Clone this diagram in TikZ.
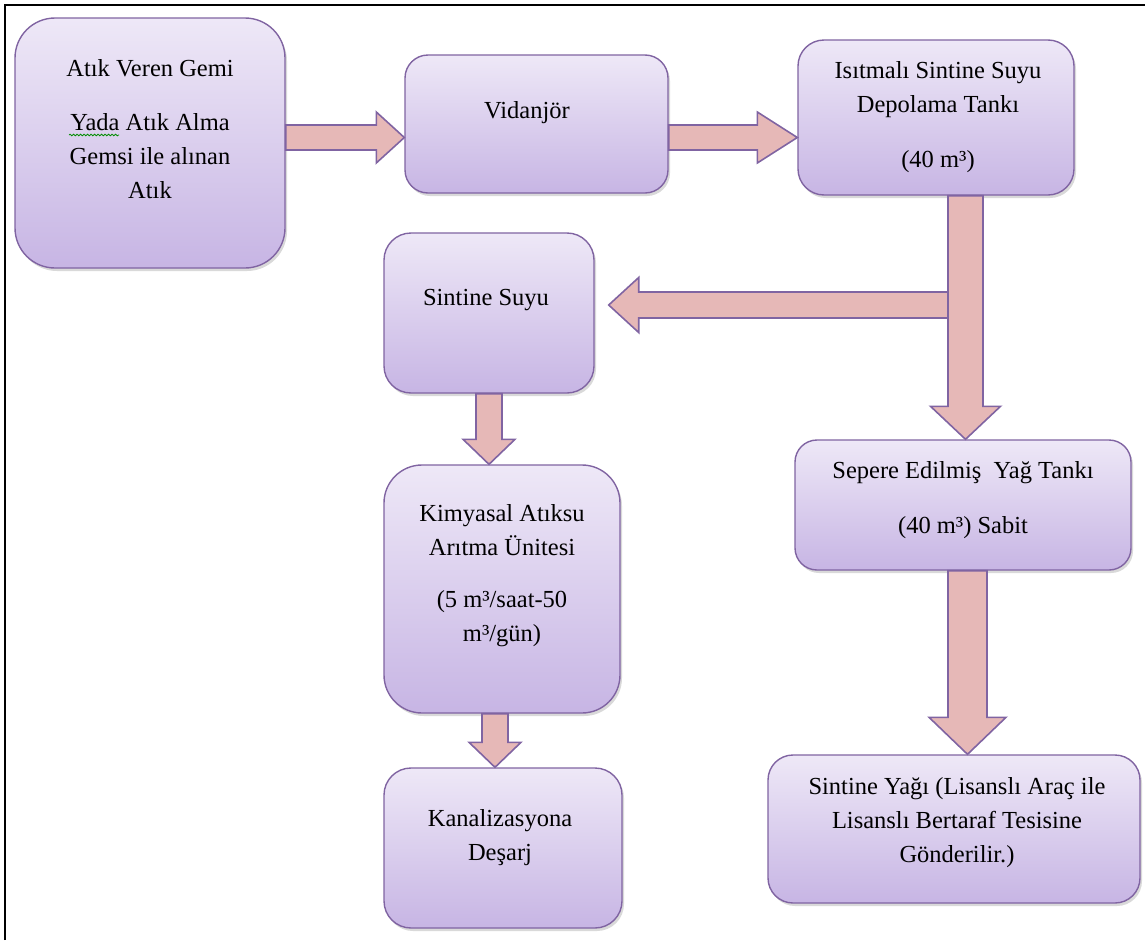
\documentclass[tikz,border=0pt]{standalone}
\usepackage{fontspec}
\setmainfont{Liberation Serif}
\usetikzlibrary{calc,shadows,decorations.pathmorphing}

\definecolor{boxtop}{RGB}{238,232,247}
\definecolor{boxbot}{RGB}{199,181,228}
\definecolor{boxline}{RGB}{128,100,162}
\definecolor{arrowfill}{RGB}{230,184,183}

\tikzset{
  stage/.style={draw=boxline, line width=1.4pt, top color=boxtop, bottom color=boxbot,
    inner sep=0pt, drop shadow={shadow xshift=2pt, shadow yshift=-3pt, opacity=0.3}},
  caption/.style={font=\fontsize{24.5}{34}\selectfont, align=center, anchor=north, inner sep=0pt},
  flowarrow/.style={draw=boxline, fill=arrowfill, line width=1.6pt},
}

% block arrow: #1 tail, #2 tip, #3 shaft half width, #4 head half width, #5 head length
\newcommand\blockarrow[5]{%
  \coordinate (hb) at ($(#2)!#5!(#1)$);
  \draw[flowarrow] ($(#1)!#3!90:(#2)$) -- ($(hb)!#3!90:(#2)$) -- ($(hb)!#4!90:(#2)$)
    -- (#2) -- ($(hb)!#4!-90:(#2)$) -- ($(hb)!#3!-90:(#2)$) -- ($(#1)!#3!-90:(#2)$) -- cycle;
}

\begin{document}
\begin{tikzpicture}[x=1pt,y=-1pt]
\useasboundingbox (0,0) rectangle (1145,940);

% frame
\draw[line width=1.6pt] (5,940) -- (5,5) -- (1145,5);

% process boxes
\node[stage, minimum width=270pt, minimum height=250pt, rounded corners=40pt] (ship) at (150,143) {};
\node[stage, minimum width=263pt, minimum height=138pt, rounded corners=23pt] (vac) at (536.5,124) {};
\node[stage, minimum width=276pt, minimum height=155pt, rounded corners=26pt] (tank) at (936,117.5) {};
\node[stage, minimum width=210pt, minimum height=160pt, rounded corners=27pt] (water) at (489,313) {};
\node[stage, minimum width=236pt, minimum height=248pt, rounded corners=38pt] (chem) at (502,589) {};
\node[stage, minimum width=238pt, minimum height=160pt, rounded corners=27pt] (sewer) at (503,848) {};
\node[stage, minimum width=336pt, minimum height=130pt, rounded corners=22pt] (oiltank) at (963,505) {};
\node[stage, minimum width=372pt, minimum height=148pt, rounded corners=25pt] (oil) at (954,829) {};

% box texts
\node[caption] (shiptxt) at ($(ship.north)+(0,42)$)
  {Atık Veren Gemi\\[20pt]Yada Atık Alma\\Gemsi ile alınan\\Atık};
\draw[decorate, decoration={snake, amplitude=0.8pt, segment length=3.5pt},
  draw=green!55!black, line width=0.8pt] (69,135) -- (119,135);
\node[caption] (vactxt) at ($(vac.north)+(-9.5,47)$) {Vidanjör};
\node[caption] (tanktxt) at ($(tank.north)+(2,22)$)
  {Isıtmalı Sintine Suyu\\Depolama Tankı\\[21pt](40 m³)};
\node[caption] (watertxt) at ($(water.north)+(-3,57)$) {Sintine Suyu};
\node[caption] (chemtxt) at ($(chem.north)+(0,40)$)
  {Kimyasal Atıksu\\Arıtma Ünitesi\\[18pt](5 m³/saat-50\\m³/gün)};
\node[caption] (sewertxt) at ($(sewer.north)+(-3,42)$) {Kanalizasyona\\Deşarj};
\node[caption] (oiltanktxt) at ($(oiltank.north)+(0,22)$)
  {Sepere Edilmiş~ Yağ Tankı\\[21pt](40 m³) Sabit};
\node[caption] (oiltxt) at ($(oil.north)+(3,23)$)
  {Sintine Yağı (Lisanslı Araç ile\\Lisanslı Bertaraf Tesisine\\Gönderilir.)};

% flow arrows
\coordinate (a1) at ($(ship.east)+(0,-5.5)$);
\coordinate (a2) at (vac.west |- a1);
\blockarrow{a1}{a2}{12.5pt}{25.5pt}{28pt}

\coordinate (b1) at ($(vac.east)+(0,13.5)$);
\coordinate (b2) at (tank.west |- b1);
\blockarrow{b1}{b2}{12.5pt}{25.5pt}{40pt}

\coordinate (split) at (950,305);
\coordinate (c2) at ($(water.east)+(14,-8)$);
\blockarrow{split}{c2}{13pt}{27.5pt}{30pt}

\coordinate (d1) at ($(tank.south)+(29.5,0)$);
\coordinate (d2) at (d1 |- oiltank.north);
\blockarrow{d1}{d2}{17.5pt}{35pt}{33pt}

\coordinate (e1) at (water.south);
\coordinate (e2) at (e1 |- chem.north);
\blockarrow{e1}{e2}{13pt}{26pt}{25pt}

\coordinate (f1) at ($(chem.south)+(-7,0)$);
\coordinate (f2) at (f1 |- sewer.north);
\blockarrow{f1}{f2}{13pt}{26pt}{25pt}

\coordinate (g1) at ($(oiltank.south)+(4.5,0)$);
\coordinate (g2) at (g1 |- oil.north);
\blockarrow{g1}{g2}{19.5pt}{38.5pt}{37pt}
\end{tikzpicture}
\end{document}
